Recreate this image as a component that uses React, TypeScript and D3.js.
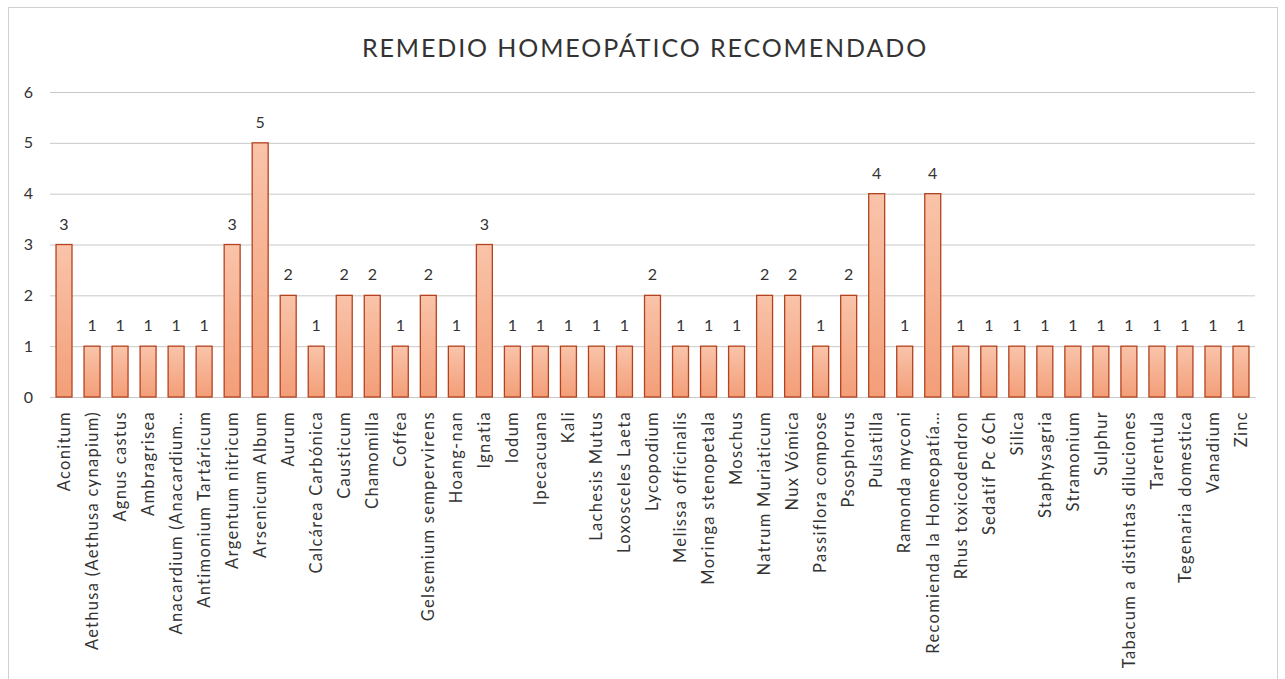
import { useEffect, useRef } from 'react';
import * as d3 from 'd3';

const remedies = [
  'Aconitum', 'Aethusa (Aethusa cynapium)', 'Agnus castus', 'Ambragrisea', 'Anacardium (Anacardium…',
  'Antimonium Tartáricum', 'Argentum nitricum', 'Arsenicum Album', 'Aurum', 'Calcárea Carbónica',
  'Causticum', 'Chamomilla', 'Coffea', 'Gelsemium sempervirens', 'Hoang-nan', 'Ignatia', 'Iodum',
  'Ipecacuana', 'Kali', 'Lachesis Mutus', 'Loxosceles Laeta', 'Lycopodium', 'Melissa officinalis',
  'Moringa stenopetala', 'Moschus', 'Natrum Muriaticum', 'Nux Vómica', 'Passiflora compose',
  'Psosphorus', 'Pulsatilla', 'Ramonda myconi', 'Recomienda la Homeopatía…', 'Rhus toxicodendron',
  'Sedatif Pc 6Ch', 'Silica', 'Staphysagria', 'Stramonium', 'Sulphur', 'Tabacum a distintas diluciones',
  'Tarentula', 'Tegenaria domestica', 'Vanadium', 'Zinc',
];
const counts = [
  3, 1, 1, 1, 1, 1, 3, 5, 2, 1, 2, 2, 1, 2, 1, 3, 1, 1, 1, 1, 1, 2, 1, 1, 1, 2, 2, 1, 2, 4, 1, 4,
  1, 1, 1, 1, 1, 1, 1, 1, 1, 1, 1,
];
const yTicks = [0, 1, 2, 3, 4, 5, 6];
const title = 'REMEDIO HOMEOPÁTICO RECOMENDADO';

export default function App() {
  const svgRef = useRef<SVGSVGElement>(null);

  useEffect(() => {
    const W = 1285;
    const H = 679;
    const margin = { top: 92, left: 50 };
    const width = 1255 - margin.left;
    const height = 397 - margin.top;
    const font = 'Lato, "Open Sans", sans-serif';
    const ink = '#333';

    const svg = d3.select(svgRef.current).attr('width', W).attr('height', H);
    svg.selectAll('*').remove();

    const data = remedies.map((name, i) => ({ name, value: counts[i] }));

    // Defs
    const defs = svg.append('defs');
    const grad = defs.append('linearGradient').attr('id', 'bar-grad').attr('x1', 0).attr('y1', 0).attr('x2', 0).attr('y2', 1);
    grad.append('stop').attr('offset', '0%').attr('stop-color', '#f9c4aa');
    grad.append('stop').attr('offset', '100%').attr('stop-color', '#f39e78');

    // chart frame
    svg.append('rect').attr('x', 8.5).attr('y', 7.5).attr('width', 1269).attr('height', 700)
      .attr('fill', '#fff').attr('stroke', '#d0d0d0');

    svg.append('text').attr('x', 645).attr('y', 57).attr('text-anchor', 'middle')
      .attr('font-family', font).attr('font-size', 25).attr('letter-spacing', 1.9)
      .attr('fill', ink).text(title);

    const g = svg.append('g').attr('transform', `translate(${margin.left},${margin.top})`);

    const x = d3.scaleBand().domain(remedies).range([0, width]).paddingInner(0.43).paddingOuter(0.215);
    const y = d3.scaleLinear().domain([0, 6]).range([height, 0]);

    // Grid
    g.append('g').call(
      d3.axisLeft(y).tickValues(yTicks).tickFormat(d3.format('d')).tickSize(-width).tickPadding(17)
    ).call(a => {
      a.selectAll('line').attr('stroke', '#c8c8c8').attr('stroke-width', 1);
      a.selectAll('text').attr('fill', ink).attr('font-size', 16).attr('font-family', font);
      a.select('.domain').remove();
    });

    // X axis
    g.append('g').attr('transform', `translate(0,${height})`).call(
      d3.axisBottom(x).tickSize(0)
    ).call(a => {
      a.selectAll('text').attr('fill', ink).attr('font-size', 16.5).attr('font-family', font)
        .attr('letter-spacing', 1.3)
        .attr('transform', 'rotate(-90)').attr('text-anchor', 'end')
        .attr('x', -14).attr('y', 0).attr('dy', '0.35em');
      a.select('.domain').attr('stroke', '#c8c8c8');
    });

    // Bars
    g.selectAll('.bar').data(data).enter().append('rect')
      .attr('x', d => x(d.name)!)
      .attr('y', d => y(d.value))
      .attr('width', x.bandwidth())
      .attr('height', d => height - y(d.value))
      .attr('fill', 'url(#bar-grad)').attr('stroke', '#b4421f').attr('stroke-width', 1.3);

    // Value labels
    g.selectAll('.lbl').data(data).enter().append('text')
      .attr('x', d => x(d.name)! + x.bandwidth() / 2)
      .attr('y', d => y(d.value) - 15)
      .attr('text-anchor', 'middle').attr('font-size', 16).attr('font-family', font).attr('fill', ink)
      .text(d => d.value);
  }, []);

  return (
    <div style={{ position: 'absolute', left: 0, top: 0 }}>
      <svg ref={svgRef} style={{ display: 'block' }} />
    </div>
  );
}
